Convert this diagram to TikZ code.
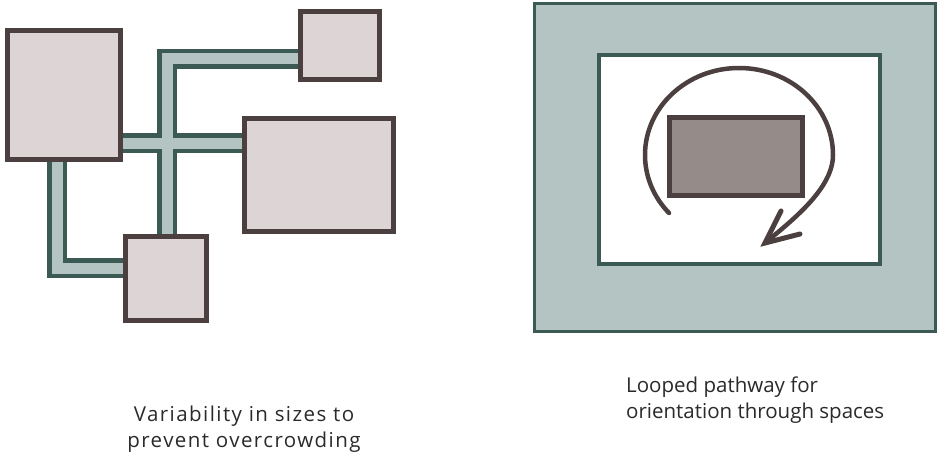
\documentclass[tikz,border=0pt]{standalone}
\usepackage{fontspec}
\setmainfont{Open Sans}
\usetikzlibrary{backgrounds}
\definecolor{boxfill}{HTML}{DDD4D6}
\definecolor{boxline}{HTML}{4B3F3F}
\definecolor{corfill}{HTML}{B4C4C3}
\definecolor{corline}{HTML}{3B5A53}
\definecolor{grayfill}{HTML}{958C8A}
\definecolor{txt}{HTML}{2A2A2A}
\begin{document}
\begin{tikzpicture}[x=1pt,y=-1pt,
  roombox/.style={draw=boxline, fill=boxfill, line width=5pt, inner sep=0pt, outer sep=0pt},
  corouter/.style={draw=corline, line width=20pt, line join=miter},
  corinner/.style={draw=corfill, line width=11pt, line join=miter},
  zonebox/.style={draw=corline, inner sep=0pt, outer sep=0pt},
  looppath/.style={draw=boxline, line width=4.5pt},
  caption/.style={text=txt, font=\fontsize{20.5}{26}\selectfont, inner sep=0pt}]
\useasboundingbox (0,0) rectangle (937,460);
% left diagram rooms
\node[roombox, minimum width=113pt, minimum height=129pt] (A) at (64,95) {};
\node[roombox, minimum width=79pt, minimum height=68pt] (B) at (340,45.5) {};
\node[roombox, minimum width=149pt, minimum height=113pt] (C) at (319,175) {};
\node[roombox, minimum width=81pt, minimum height=84pt] (D) at (166,278.5) {};
\coordinate (c1) at (167,59);
\coordinate (m1) at (167,143);
\coordinate (c2) at (57,268);
\begin{scope}[on background layer]
  \draw[corouter] (A.center |- m1) -- (C.center |- m1);
  \draw[corouter] (B.center |- c1) -- (c1) -- (c1 |- D.center);
  \draw[corouter] (c2 |- A.center) -- (c2) -- (D.center |- c2);
  \draw[corinner] (A.center |- m1) -- (C.center |- m1);
  \draw[corinner] (B.center |- c1) -- (c1) -- (c1 |- D.center);
  \draw[corinner] (c2 |- A.center) -- (c2) -- (D.center |- c2);
\end{scope}
% right diagram
\node[zonebox, fill=corfill, line width=3pt, minimum width=401pt, minimum height=328pt] (outer) at (735,167.5) {};
\node[zonebox, fill=white, line width=4pt, minimum width=281pt, minimum height=209pt] (inner) at (739.5,159.5) {};
\node[roombox, fill=grayfill, minimum width=133pt, minimum height=78pt] (core) at (736,156.5) {};
\coordinate (tip) at (765,243);
\draw[looppath, line cap=round] (669,213) .. controls (653.5,197) and (645,176.5) .. (645,155)
  .. controls (645,107) and (687,68) .. (739,68)
  .. controls (791,68) and (833,107) .. (833,155)
  .. controls (833,188) and (794,219) .. (tip);
\draw[looppath, line width=5pt, line join=miter, line cap=round] (781,211) -- (tip) -- (800,234);
% captions
\node[caption, align=center, anchor=north, font=\fontsize{20.5}{26}\selectfont\addfontfeature{LetterSpace=7}] (capL) at (244,406) {Variability in sizes to\\prevent overcrowding};
\node[caption, align=left, anchor=north west] (capR) at (626,377) {Looped pathway for\\orientation through spaces};
\end{tikzpicture}
\end{document}
